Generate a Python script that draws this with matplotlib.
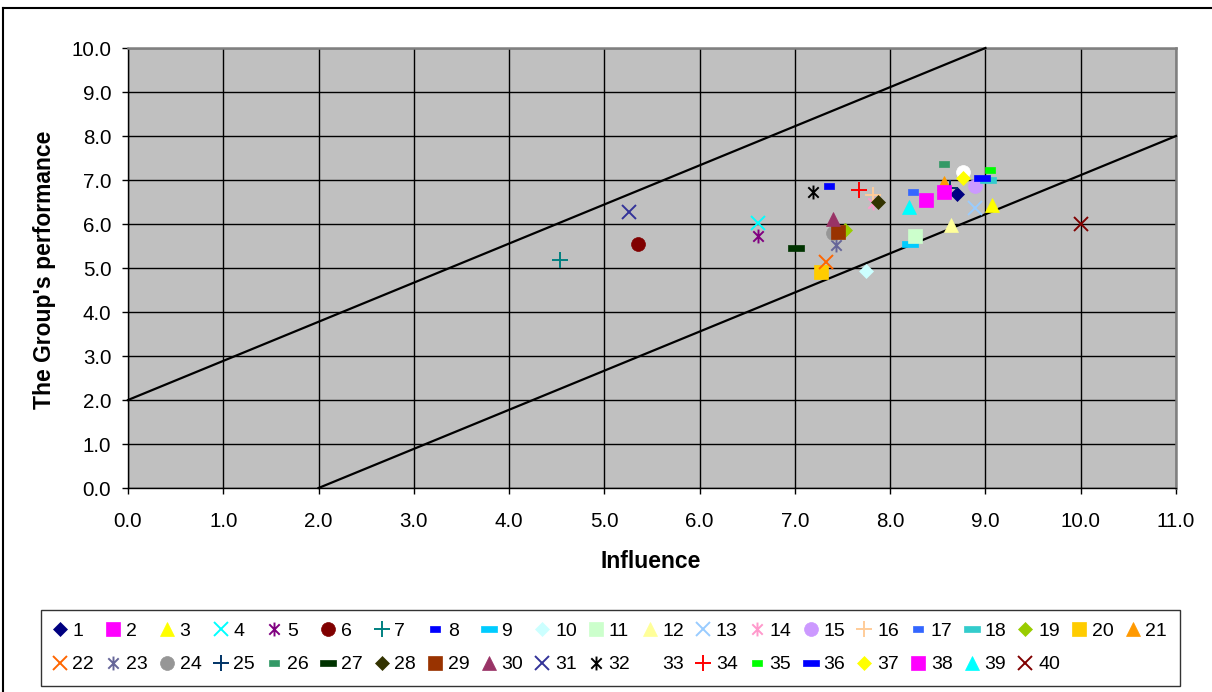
import matplotlib
matplotlib.use("Agg")
import matplotlib.pyplot as plt
from matplotlib.path import Path
from matplotlib.lines import Line2D

plt.rcParams['font.family'] = ['Liberation Sans', 'DejaVu Sans']

# ---- data ----
series_labels = [str(i) for i in range(1, 41)]
influence = [8.70, 8.38, 9.07, 6.61, 6.61, 5.35, 4.53, 7.36, 8.21, 7.75,
             8.26, 8.64, 8.89, 7.82, 8.89, 7.82, 8.24, 9.03, 7.53, 7.27,
             8.57, 7.33, 7.43, 7.40, 8.63, 8.57, 7.01, 7.87, 7.45, 7.40,
             5.26, 7.19, 8.76, 7.67, 9.05, 8.96, 8.76, 8.57, 8.20, 10.00]
performance = [6.68, 6.55, 6.43, 6.02, 5.73, 5.55, 5.18, 6.86, 5.54, 4.94,
               5.73, 5.98, 6.36, 6.47, 6.86, 6.67, 6.72, 7.00, 5.86, 4.90,
               6.94, 5.13, 5.52, 5.79, 6.81, 7.36, 5.45, 6.49, 5.82, 6.11,
               6.27, 6.72, 7.19, 6.77, 7.23, 7.04, 7.04, 6.73, 6.39, 6.00]
upper_x = [0.0, 9.0]
upper_y = [2.0, 10.0]
lower_x = [2.0, 11.0]
lower_y = [0.0, 8.0]
x_ticks = [0, 1, 2, 3, 4, 5, 6, 7, 8, 9, 10, 11]
y_ticks = [0, 1, 2, 3, 4, 5, 6, 7, 8, 9, 10]

# ---- styles ----
colors = ['#000080', '#FF00FF', '#FFFF00', '#00FFFF', '#800080', '#800000', '#008080',
          '#0000FF', '#00CCFF', '#CCFFFF', '#CCFFCC', '#FFFF99', '#99CCFF', '#FF99CC',
          '#CC99FF', '#FFCC99', '#3366FF', '#33CCCC', '#99CC00', '#FFCC00', '#FF9900',
          '#FF6600', '#666699', '#969696', '#003366', '#339966', '#003300', '#333300',
          '#993300', '#993366', '#333399', '#000000', '#FFFFFF', '#FF0000', '#00FF00',
          '#0000FF', '#FFFF00', '#FF00FF', '#00FFFF', '#800000']

asterisk = Path([(-0.75, -0.75), (0.75, 0.75), (-0.75, 0.75), (0.75, -0.75), (0, -1), (0, 1)],
                [Path.MOVETO, Path.LINETO, Path.MOVETO, Path.LINETO, Path.MOVETO, Path.LINETO])
short_dash = Path([(-1, -0.5), (1, -0.5), (1, 0.5), (-1, 0.5), (-1, -0.5)],
                  [Path.MOVETO, Path.LINETO, Path.LINETO, Path.LINETO, Path.CLOSEPOLY])
long_dash = Path([(-1, -0.33), (1, -0.33), (1, 0.33), (-1, 0.33), (-1, -0.33)],
                 [Path.MOVETO, Path.LINETO, Path.LINETO, Path.LINETO, Path.CLOSEPOLY])

# (marker, size, filled)
cycle = [('D', 7, True), ('s', 10, True), ('^', 10, True), ('x', 10, False),
         (asterisk, 10, False), ('o', 10, True), ('+', 11, False),
         (short_dash, 7.5, True), (long_dash, 11.5, True)]

fig = plt.figure(figsize=(12.12, 6.92), dpi=100)
W, H = 1212, 692
ax = fig.add_axes([128 / W, (H - 488) / H, 1048 / W, 440 / H])
ax.set_facecolor('#C0C0C0')

ax.plot(upper_x, upper_y, color='black', lw=1.6, zorder=3, clip_on=False)
ax.plot(lower_x, lower_y, color='black', lw=1.6, zorder=3, clip_on=False)

handles = []
for i, (xv, yv) in enumerate(zip(influence, performance)):
    m, ms, filled = cycle[i % 9]
    c = colors[i]
    if filled:
        kw = dict(marker=m, markersize=ms, markerfacecolor=c, markeredgecolor=c, markeredgewidth=0.5)
    else:
        kw = dict(marker=m, markersize=ms, markerfacecolor='none', markeredgecolor=c, markeredgewidth=1.4)
    h, = ax.plot([xv], [yv], linestyle='none', zorder=4 + i * 0.01, label=series_labels[i], **kw)
    handles.append(h)

ax.set_xlim(0, 11)
ax.set_ylim(0, 10)
ax.set_xticks(x_ticks)
ax.set_yticks(y_ticks)
ax.set_xticklabels([f'{v:.1f}' for v in x_ticks])
ax.set_yticklabels([f'{v:.1f}' for v in y_ticks])
ax.grid(True, color='black', lw=1.0, zorder=1)
ax.set_axisbelow(True)
ax.tick_params(axis='both', direction='out', length=4, width=1, labelsize=14.8, color='black')
ax.tick_params(axis='y', pad=8)
ax.tick_params(axis='x', pad=13)
for s in ['left', 'bottom']:
    ax.spines[s].set_color('black')
    ax.spines[s].set_linewidth(1.0)
for s in ['top', 'right']:
    ax.spines[s].set_color('#808080')
    ax.spines[s].set_linewidth(1.8)

fig.text(651 / W, 1 - 561 / H, 'Influence', ha='center', va='center', fontsize=16.5, fontweight='bold')
fig.text(45 / W, 1 - 270 / H, "The Group's performance", ha='center', va='center',
         fontsize=16.5, fontweight='bold', rotation=90)

# legend: rows 1..21 and 22..40 (matplotlib fills column-wise)
order = []
for j in range(19):
    order += [j, j + 21]
order += [19, 20]
leg = fig.legend([handles[k] for k in order], [series_labels[k] for k in order],
                 ncol=21, loc='center', bbox_to_anchor=(610.5 / W, 1 - 648 / H),
                 fontsize=14, frameon=True, fancybox=False, shadow=False,
                 handlelength=0.6, handletextpad=0.35, columnspacing=0.69,
                 labelspacing=0.8, borderpad=0.65, borderaxespad=0)
leg.get_frame().set_edgecolor('black')
leg.get_frame().set_linewidth(1.0)

# outer chart border (top and left visible)
fig.add_artist(Line2D([3 / W, 1.0], [1 - 8 / H, 1 - 8 / H], color='black', lw=1.5, transform=fig.transFigure))
fig.add_artist(Line2D([3 / W, 3 / W], [0, 1 - 8 / H], color='black', lw=1.5, transform=fig.transFigure))

fig.savefig('out.png', dpi=100, facecolor='white')
